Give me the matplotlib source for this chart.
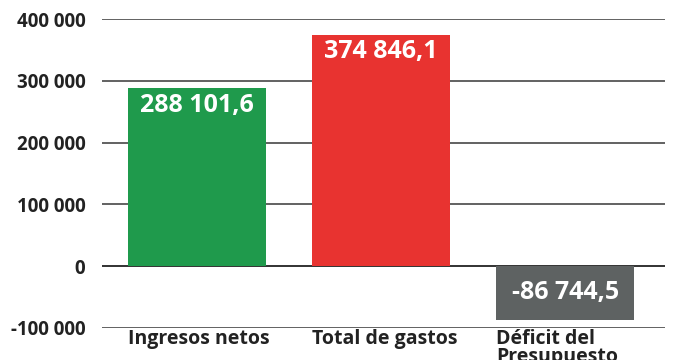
import matplotlib.pyplot as plt

plt.rcParams["font.family"] = ["Open Sans", "DejaVu Sans"]

categories = ["Ingresos netos", "Total de gastos", "Déficit del\nPresupuesto"]
values = [288101.6, 374846.1, -86744.5]
colors = ["#1f9a4c", "#e83330", "#5e6262"]
yticks = [-100000, 0, 100000, 200000, 300000, 400000]


def fmt(v, dec=True):
    s = f"{abs(v):,.1f}" if dec else f"{abs(v):,.0f}"
    s = s.replace(",", " ").replace(".", ",")
    return ("-" if v < 0 else "") + s


fig = plt.figure(figsize=(6.75, 3.6), dpi=100)
ax = fig.add_axes([0.151, 0.089, 0.834, 0.858])

x = [0, 1, 2]
w = 0.75
ax.bar(x, values, width=w, color=colors, zorder=3)

ax.set_ylim(-100000, 400000)
ax.set_xlim(-0.516, 2.54)
ax.set_yticks(yticks)
ax.set_yticklabels([fmt(t, dec=False) for t in yticks], fontsize=13.5,
                   fontweight="bold", color="#222222")
ax.tick_params(axis="y", length=0, pad=12)
ax.tick_params(axis="x", length=0, labelbottom=False)
for s in ax.spines.values():
    s.set_visible(False)
for t in yticks:
    c = "#222222" if t == 0 else "#555555"
    ax.axhline(t, color=c, lw=1.3, zorder=2)

for xi, v in zip(x, values):
    y = v - 28000 if v > 0 else v / 2
    ax.text(xi, y, fmt(v), ha="center", va="center", color="white",
            fontsize=18, fontweight="bold", zorder=4)

for xi, lab in zip(x, categories):
    ax.text(xi - w / 2, -101500, lab, ha="left", va="top", fontsize=14,
            fontweight="bold", color="#222222", linespacing=0.85)

fig.savefig("out.png", dpi=100)
